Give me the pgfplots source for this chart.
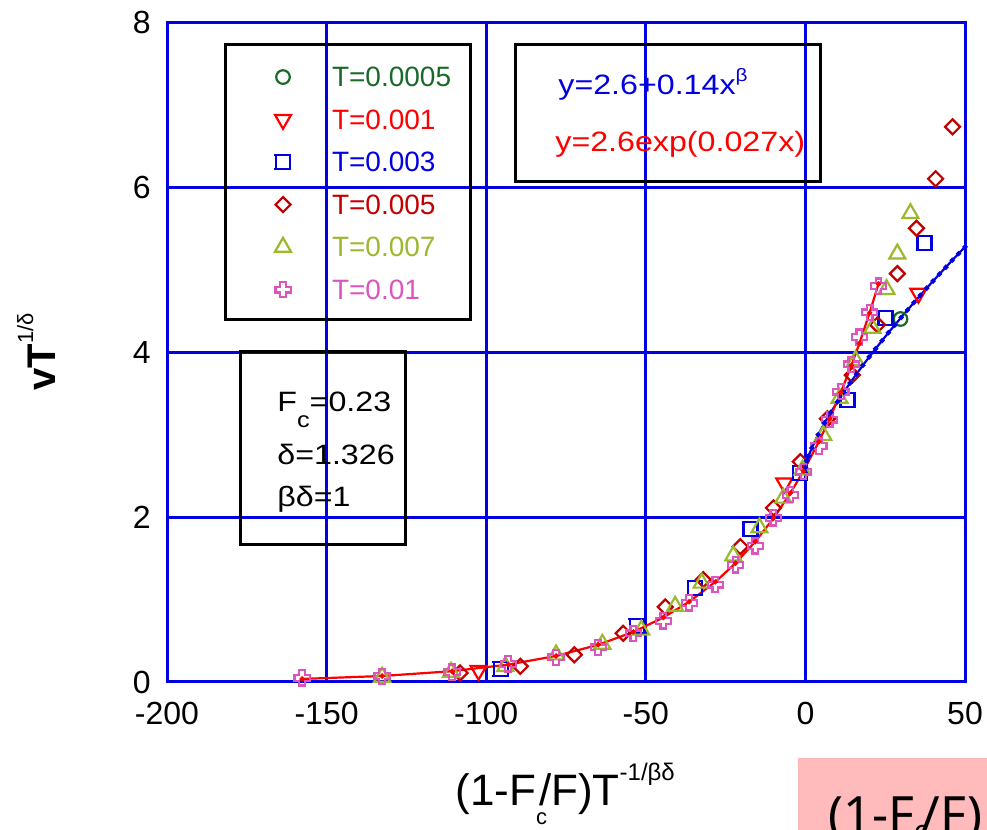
\documentclass[border=0pt]{standalone}
\usepackage{graphicx}
\usepackage{pgfplots}
\pgfplotsset{compat=1.18}
\usepackage{fontspec}
\setmainfont{Liberation Sans}
\newfontfamily\notosans{Noto Sans}
\definecolor{gblue}{RGB}{0,0,225}
\definecolor{cgreen}{RGB}{25,105,40}
\definecolor{cred}{RGB}{255,0,0}
\definecolor{cdred}{RGB}{195,0,0}
\definecolor{cyg}{RGB}{155,185,45}
\definecolor{cpink}{RGB}{220,85,190}
\definecolor{cbox}{RGB}{255,187,187}

\pgfdeclareplotmark{bsq}{%
  \pgfpathmoveto{\pgfqpoint{-1.25\pgfplotmarksize}{\pgfplotmarksize}}%
  \pgfpathlineto{\pgfqpoint{1.1\pgfplotmarksize}{\pgfplotmarksize}}%
  \pgfpathmoveto{\pgfqpoint{-1.25\pgfplotmarksize}{-\pgfplotmarksize}}%
  \pgfpathlineto{\pgfqpoint{1.1\pgfplotmarksize}{-\pgfplotmarksize}}%
  \pgfpathmoveto{\pgfqpoint{-\pgfplotmarksize}{-1.1\pgfplotmarksize}}%
  \pgfpathlineto{\pgfqpoint{-\pgfplotmarksize}{1.1\pgfplotmarksize}}%
  \pgfpathmoveto{\pgfqpoint{\pgfplotmarksize}{-1.1\pgfplotmarksize}}%
  \pgfpathlineto{\pgfqpoint{\pgfplotmarksize}{1.1\pgfplotmarksize}}%
  \pgfusepathqstroke}
\pgfdeclareplotmark{hplus}{%
  \pgfpathmoveto{\pgfqpoint{-0.38\pgfplotmarksize}{\pgfplotmarksize}}%
  \pgfpathlineto{\pgfqpoint{0.38\pgfplotmarksize}{\pgfplotmarksize}}%
  \pgfpathlineto{\pgfqpoint{0.38\pgfplotmarksize}{0.38\pgfplotmarksize}}%
  \pgfpathlineto{\pgfqpoint{\pgfplotmarksize}{0.38\pgfplotmarksize}}%
  \pgfpathlineto{\pgfqpoint{\pgfplotmarksize}{-0.38\pgfplotmarksize}}%
  \pgfpathlineto{\pgfqpoint{0.38\pgfplotmarksize}{-0.38\pgfplotmarksize}}%
  \pgfpathlineto{\pgfqpoint{0.38\pgfplotmarksize}{-\pgfplotmarksize}}%
  \pgfpathlineto{\pgfqpoint{-0.38\pgfplotmarksize}{-\pgfplotmarksize}}%
  \pgfpathlineto{\pgfqpoint{-0.38\pgfplotmarksize}{-0.38\pgfplotmarksize}}%
  \pgfpathlineto{\pgfqpoint{-\pgfplotmarksize}{-0.38\pgfplotmarksize}}%
  \pgfpathlineto{\pgfqpoint{-\pgfplotmarksize}{0.38\pgfplotmarksize}}%
  \pgfpathlineto{\pgfqpoint{-0.38\pgfplotmarksize}{0.38\pgfplotmarksize}}%
  \pgfpathclose
  \pgfusepathqstroke}

\begin{document}
\begin{tikzpicture}
\useasboundingbox (0,0) rectangle (493.5bp,415bp);
\begin{axis}[
  at={(83.5bp,74bp)}, anchor=south west,
  scale only axis, width=399bp, height=330bp,
  xmin=-200, xmax=50, ymin=0, ymax=8,
  xtick={-200,-150,-100,-50,0,50},
  ytick={0,2,4,6,8},
  grid=major,
  major grid style={gblue, line width=1.5bp},
  axis line style={gblue, line width=1.5bp},
  major tick length=0pt,
  tick label style={font=\fontsize{16bp}{16bp}\selectfont, /pgf/number format/assume math mode=true},
  xticklabel style={yshift=-6.4bp},
  yticklabel style={xshift=-4.7bp},
  legend style={at={(0.0727,0.9488)}, anchor=north west, draw=none, fill=none,
    inner sep=0pt, outer sep=0pt, row sep=0pt, column sep=4.5bp,
    font=\fontsize{14bp}{14bp}\selectfont,
    nodes={inner sep=0pt, text depth=0pt}},
  legend cell align=left,
  legend image code/.code={\path[draw=none, fill=none] (-29bp,-10.625bp) rectangle (20bp,10.625bp); \draw[#1] plot coordinates {(0bp,0bp)};},
  every axis plot/.append style={line width=1.1bp},
]
\addplot[only marks, cgreen, mark=o, mark size=3.4bp] coordinates {(29.8,4.40)};
\addlegendentry{\textcolor{cgreen}{T=0.0005}}

\addplot[only marks, cred, mark=triangle, mark size=4.6bp, mark options={rotate=180}] coordinates {
(-102.4,0.14) (-6.6,2.41) (35.4,4.71)};
\addlegendentry{\textcolor{cred}{T=0.001}}

\addplot[only marks, gblue, mark=bsq, mark size=3.5bp] coordinates {
(-95.3,0.16) (-52.7,0.68) (-34.5,1.14) (-17.2,1.85) (-1.6,2.53) (13.2,3.42) (25.1,4.41) (37.3,5.32)};
\addlegendentry{\textcolor{gblue}{T=0.003}}

\addplot[only marks, cdred, mark=square, mark size=2.65bp, mark options={rotate=45}] coordinates {
(-108.2,0.11) (-89.3,0.19) (-72.4,0.33) (-57.1,0.59) (-43.9,0.91) (-32.0,1.24) (-20.4,1.64) (-10.0,2.11) (-1.6,2.67) (6.9,3.19) (14.7,3.72) (22.6,4.33) (28.8,4.95) (34.8,5.50) (40.8,6.10) (46.1,6.73)};
\addlegendentry{\textcolor{cdred}{T=0.005}}

\addplot[only marks, cyg, mark=triangle, mark size=4.6bp] coordinates {
(-132.6,0.06) (-111.0,0.12) (-94.0,0.19) (-78.1,0.33) (-63.6,0.46) (-51.4,0.63) (-40.8,0.92) (-32.5,1.20) (-22.6,1.53) (-14.4,1.87) (-6.9,2.23) (-0.9,2.57) (5.6,2.99) (10.7,3.44) (15.7,3.90) (21.0,4.29) (25.4,4.76) (28.8,5.19) (32.9,5.68)};
\addlegendentry{\textcolor{cyg}{T=0.007}}

\addplot[only marks, cpink, mark=hplus, mark size=3.8bp] coordinates {
(-157.7,0.05) (-132.6,0.07) (-110.7,0.12) (-93.1,0.22) (-78.1,0.30) (-64.9,0.42) (-53.9,0.59) (-44.5,0.74) (-36.4,0.96) (-28.2,1.18) (-21.9,1.42) (-15.7,1.65) (-10.0,1.99) (-4.7,2.27) (-0.6,2.55) (4.2,2.86) (7.6,3.18) (11.1,3.52) (14.4,3.85) (16.9,4.18) (20.1,4.48) (22.9,4.80)};
\addlegendentry{\textcolor{cpink}{T=0.01}}

% fit y = 2.6 + 0.14 x^beta
\addplot[forget plot, gblue, mark=*, mark size=0.7bp] coordinates {
(0,2.600) (0.5,2.683) (1,2.740) (2,2.836) (4,2.998) (6,3.141) (8,3.271) (10,3.395) (12,3.512) (14,3.624) (16,3.733) (18,3.838) (20,3.940) (22,4.040) (24,4.137) (26,4.234) (28,4.326) (30,4.419) (32,4.510) (34,4.599) (36,4.687) (38,4.774) (40,4.860) (42,4.945) (44,5.028) (46,5.112) (48,5.193) (50,5.274)};

% fit y = 2.6 exp(0.027 x)
\addplot[forget plot, cred, mark=*, mark size=0.7bp] coordinates {
(-157.7,0.037) (-132.6,0.073) (-110.7,0.131) (-93.1,0.211) (-78.1,0.316) (-64.9,0.451) (-53.9,0.607) (-44.5,0.782) (-36.4,0.973) (-28.2,1.214) (-21.9,1.440) (-15.7,1.702) (-10.0,1.985) (-4.7,2.290) (-0.6,2.558) (4.2,2.912) (7.6,3.192) (11.1,3.509) (14.4,3.836) (16.9,4.103) (20.1,4.474) (22.9,4.825)};
\end{axis}

% legend frame
\draw[line width=1.5bp] (112.5bp,392.5bp) rectangle (235bp,255bp);
% fit box
\draw[line width=1.5bp] (257.5bp,392.5bp) rectangle (410bp,324bp);
\node[anchor=base west, inner sep=0pt, text=gblue, font=\fontsize{14bp}{14bp}\selectfont] at (279bp,367.5bp)
  {\scalebox{1.15}[1]{y=2.6+0.14x\raisebox{6.5bp}{\fontsize{9bp}{9bp}\selectfont β}}};
\node[anchor=base west, inner sep=0pt, text=cred, font=\fontsize{14bp}{14bp}\selectfont] at (277.5bp,339bp)
  {\scalebox{1.15}[1]{y=2.6exp(0.027x)}};
% parameter box
\draw[line width=1.5bp] (120bp,239bp) rectangle (202.5bp,142.5bp);
\node[anchor=base west, inner sep=0pt, font=\fontsize{14bp}{14bp}\selectfont] at (138.5bp,209bp)
  {\scalebox{1.15}[1]{F\raisebox{-8bp}{\fontsize{11bp}{11bp}\selectfont c}=0.23}};
\node[anchor=base west, inner sep=0pt, font=\fontsize{14bp}{14bp}\selectfont] at (138.5bp,182.5bp)
  {\scalebox{1.15}[1]{δ=1.326}};
\node[anchor=base west, inner sep=0pt, font=\fontsize{14bp}{14bp}\selectfont] at (138.5bp,161.5bp)
  {\scalebox{1.15}[1]{βδ=1}};
% axis labels
\node[anchor=base west, inner sep=0pt, font=\fontsize{22bp}{22bp}\selectfont] at (227.5bp,12.5bp)
  {(1-F\raisebox{-9.5bp}{\fontsize{11bp}{11bp}\selectfont c}\kern-4bp/F)T\raisebox{12.5bp}{\fontsize{12bp}{12bp}\selectfont -1/βδ}};
\node[rotate=90, anchor=base, inner sep=0pt, font=\fontsize{20bp}{20bp}\selectfont\bfseries] at (27.5bp,239bp)
  {vT\raisebox{11bp}{\fontsize{11bp}{11bp}\selectfont\mdseries 1/δ}};
% pink box
\fill[cbox] (399bp,0) rectangle (493.5bp,36bp);
\node[anchor=base west, inner sep=0pt, font=\notosans\fontsize{25bp}{25bp}\selectfont] at (414bp,-1bp)
  {(1-F\raisebox{-4bp}{\fontsize{14bp}{14bp}\selectfont c}\kern-3bp/F)};
\end{tikzpicture}
\end{document}
